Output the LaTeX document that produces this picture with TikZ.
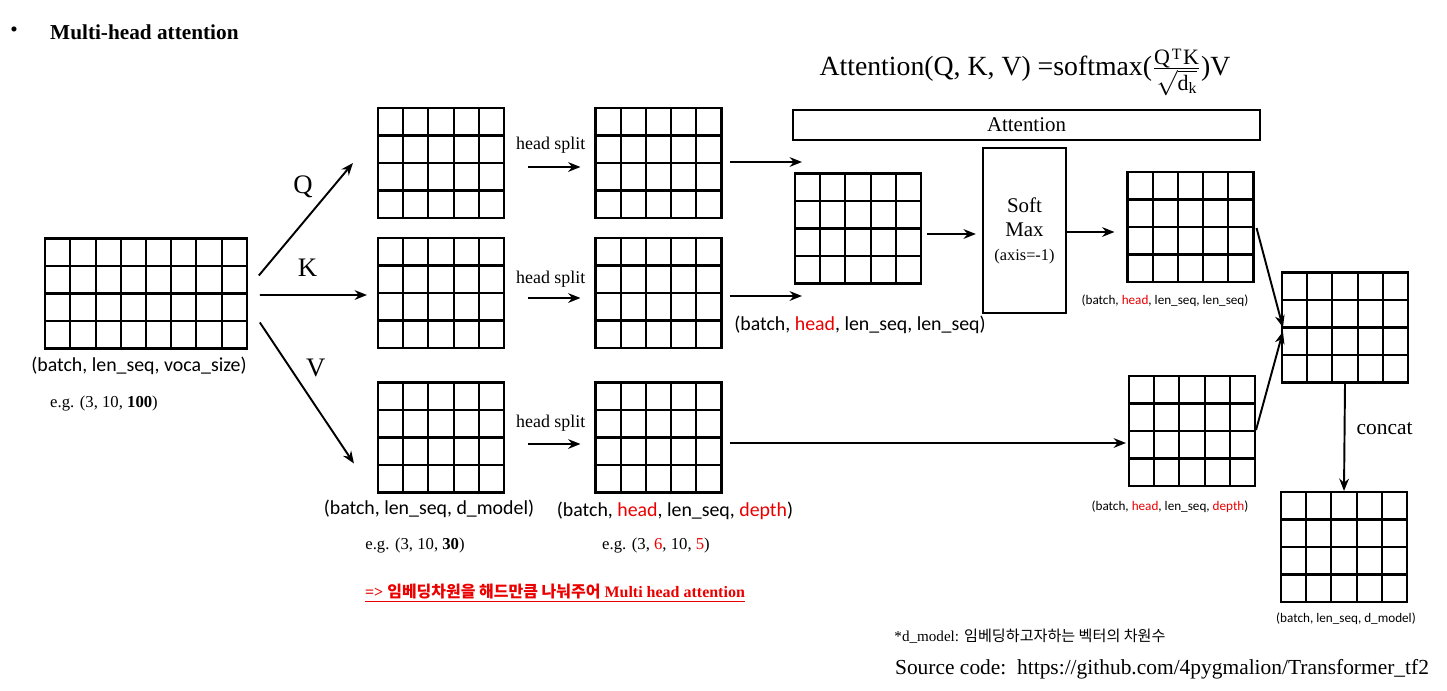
\documentclass[tikz,border=0pt]{standalone}
\usepackage{fontspec}
\setmainfont{Liberation Serif}
\newfontfamily\calfont{Carlito}
\newfontfamily\korfont{Noto Sans CJK KR}
\usetikzlibrary{arrows.meta,positioning,calc}
\definecolor{hd}{RGB}{235,0,0}
\newcommand{\fsm}[1]{\hbox{\fontsize{12.5}{13}\selectfont #1}}

\begin{document}
\begin{tikzpicture}[x=0.02cm,y=-0.02cm,
    mat/.style 2 args={draw,line width=1.2pt,inner sep=0pt,
      minimum width=#1*0.504cm,minimum height=#2*0.55cm,
      path picture={
        \foreach \i in {1,...,#1}
          \draw[line width=1.2pt] ($(path picture bounding box.north west)!\i/#1!(path picture bounding box.north east)$)
            -- ($(path picture bounding box.south west)!\i/#1!(path picture bounding box.south east)$);
        \foreach \j in {1,...,#2}
          \draw[line width=1.2pt] ($(path picture bounding box.north west)!\j/#2!(path picture bounding box.south west)$)
            -- ($(path picture bounding box.north east)!\j/#2!(path picture bounding box.south east)$);
      }},
    arr/.style={-{Stealth[length=7pt,width=5.5pt]},line width=1.1pt},
    sans/.style={font=\calfont\fontsize{11.3}{13}\selectfont},
    ssans/.style={font=\calfont\fontsize{7.5}{9}\selectfont},
    eg/.style={font=\fontsize{9.5}{11}\selectfont},
    hs/.style={font=\fontsize{10.2}{12}\selectfont},
    qkv/.style={font=\fontsize{15.2}{18}\selectfont}]
  \useasboundingbox (0,0) rectangle (1447,690);

  % title and formula
  \node[font=\fontsize{12.1}{14}\selectfont] (bul) at (14,32) {\textbullet};
  \node[anchor=west,font=\bfseries\fontsize{12.1}{14}\selectfont] (ttl) at (44,32) {Multi-head attention};
  \node[anchor=base,font=\fontsize{15.8}{18}\selectfont] (frm) at (1025,75)
    {Attention(Q, K, V) =softmax($\frac{\fsm{Q\kern1pt\raisebox{0.5ex}{\fontsize{9}{9}\selectfont T}\kern1pt K}}{\sqrt{\fsm{d\raisebox{-0.3ex}{\fontsize{9}{9}\selectfont k}}}}$)V};

  % tensors
  \node[mat={8}{4}] (in) at (146,293.5) {};
  \node[mat={5}{4}] (q) at (441,163) {};
  \node[mat={5}{4}] (k) at (441,293) {};
  \node[mat={5}{4}] (v) at (441,437.5) {};
  \node[mat={5}{4}] (qs) at (658.5,163) {};
  \node[mat={5}{4}] (ks) at (658.5,293) {};
  \node[mat={5}{4}] (vs) at (658.5,437.5) {};
  \node[mat={5}{4}] (att) at (858,228.5) {};
  \node[mat={5}{4}] (aw) at (1190.5,227) {};
  \node[mat={5}{4}] (vo) at (1192,431) {};
  \node[mat={5}{4}] (cc) at (1345,327.5) {};
  \node[mat={5}{4}] (out) at (1344,547) {};
  \node[draw,line width=1.3pt,minimum width=9.34cm,minimum height=0.6cm,
    font=\fontsize{11.9}{14}\selectfont] (bar) at (1026.5,125) {Attention};
  \node[draw,line width=1.3pt,minimum width=1.66cm,minimum height=3.3cm,align=center,
    font=\fontsize{11.9}{13.6}\selectfont] (sm) at (1024.5,230.5)
    {Soft\\Max\\{\fontsize{9.3}{11}\selectfont(axis=-1)}};

  % connectors
  \draw[arr] ($(in.east)+(11,-18)$) -- ($(q.west)+(-24,0)$)
    node[qkv,midway,xshift=-1.7pt,yshift=18.2pt] {Q};
  \draw[arr] ($(in.east)+(12,1.5)$) -- ($(k.west)+(-10,2)$)
    node[qkv,midway,xshift=-3.4pt,yshift=15.4pt] {K};
  \draw[arr] ($(in.east)+(12,29)$) -- ($(v.west)+(-23,26)$)
    node[qkv,midway,xshift=5.1pt,yshift=14.2pt] {V};
  \draw[arr] ($(q.east)+(23,4)$) -- ($(qs.west)+(-14,4)$)
    node[hs,midway,xshift=-2pt,yshift=12.5pt] {head split};
  \draw[arr] ($(k.east)+(23,5)$) -- ($(ks.west)+(-14,5)$)
    node[hs,midway,xshift=-2pt,yshift=10.8pt] {head split};
  \draw[arr] ($(v.east)+(23,6.5)$) -- ($(vs.west)+(-14,6.5)$)
    node[hs,midway,xshift=-2pt,yshift=12pt] {head split};
  \draw[arr] ($(qs.east)+(7,-1)$) -- ($(qs.east -| att.west)+(8,-1)$);
  \draw[arr] ($(ks.east)+(7,3)$) -- ($(ks.east -| att.west)+(8,3)$);
  \draw[arr] ($(att.east)+(5,5.5)$) -- ($(att.east -| sm.west)+(-6,5.5)$);
  \draw[arr] ($(sm.east)+(0,1.5)$) -- ($(sm.east -| aw.west)+(-12,1.5)$);
  \draw[arr] ($(vs.east)+(7,5.5)$) -- ($(vs.east -| vo.west)+(-2,5.5)$);
  \draw[arr] ($(aw.east)+(2,1)$) -- ($(cc.west)+(2,0)$);
  \draw[arr] ($(vo.east)+(0,-1)$) -- ($(cc.west)+(2,4)$);
  \draw[arr] (cc.south) -- (out.north)
    node[midway,right=3pt,yshift=4.8pt,font=\fontsize{12.2}{14}\selectfont] {concat};

  % shape labels
  \node[sans] (l-in) at (139,366) {(batch, len\_seq, voca\_size)};
  \node[eg] (e-in) at (104,404) {e.g. (3, 10, \textbf{100})};
  \node[sans] (l-v) at (429,509) {(batch, len\_seq, d\_model)};
  \node[eg] (e-v) at (415,546) {e.g. (3, 10, \textbf{30})};
  \node[sans] (l-vs) at (675,511) {(batch, \textcolor{hd}{head}, len\_seq, \textcolor{hd}{depth})};
  \node[eg] (e-vs) at (656,546) {e.g. (3, \textcolor{hd}{6}, 10, \textcolor{hd}{5})};
  \node[sans] (l-att) at (860,325) {(batch, \textcolor{hd}{head}, len\_seq, len\_seq)};
  \node[ssans] (l-aw) at (1165,301) {(batch, \textcolor{hd}{head}, len\_seq, len\_seq)};
  \node[ssans] (l-vo) at (1170,507) {(batch, \textcolor{hd}{head}, len\_seq, \textcolor{hd}{depth})};
  \node[ssans] (l-out) at (1346,619) {(batch, len\_seq, d\_model)};

  % notes
  \node[text=hd,font=\bfseries\fontsize{9.1}{11}\selectfont] (msg) at (555,593)
    {\underline{=> {\korfont 임베딩차원을 해드만큼 나눠주어} Multi head attention}};
  \node[font=\fontsize{8.6}{10}\selectfont] (dm) at (1030,636)
    {*d\_model: {\korfont 임베딩하고자하는 벡터의 차원수}};
  \node[font=\fontsize{12.2}{14}\selectfont] (src) at (1162,669)
    {Source code:\ \ https://github.com/4pygmalion/Transformer\_tf2};
\end{tikzpicture}
\end{document}
